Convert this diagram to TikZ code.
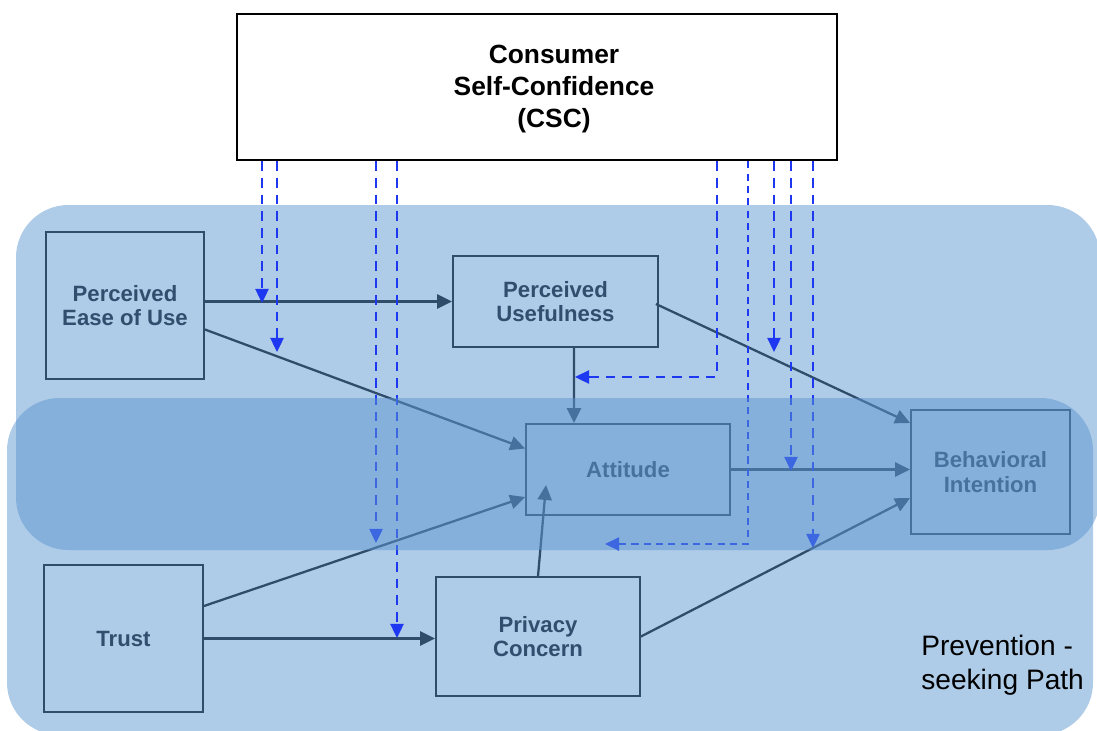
\documentclass[tikz,border=0pt]{standalone}
\usepackage{fontspec}
\setmainfont{Liberation Sans}
\usepackage{xcolor}
\usetikzlibrary{arrows.meta,calc}

\definecolor{regionblue}{RGB}{174,203,232}
\definecolor{bandblue}{RGB}{93,151,209}
\definecolor{boxline}{RGB}{47,76,107}
\definecolor{boxtext}{RGB}{50,78,110}
\definecolor{cscblue}{RGB}{30,55,240}

\tikzset{
  factor/.style={draw=boxline, line width=1.1pt, text=boxtext, align=center, inner sep=0pt,
    font=\bfseries\fontsize{12.6}{13.8}\selectfont},
  link/.style={draw=boxline, line width=1.3pt, -{Triangle[length=8.5pt,width=8pt]}},
  moder/.style={draw=cscblue, line width=1.1pt, dash pattern=on 5.5pt off 4pt,
    -{Triangle[length=8pt,width=7.5pt]}},
  moderfine/.style={moder, line width=1pt, dash pattern=on 4pt off 3pt},
}

\begin{document}
\begin{tikzpicture}[x=0.02cm, y=-0.02cm]
\useasboundingbox (0,0) rectangle (1097,730);
\clip (0,0) rectangle (1097,730);

% the two paths
\fill[regionblue, rounded corners=1.05cm] (16,205) rectangle (1100,550);
\fill[regionblue, rounded corners=1.05cm] (7,398) rectangle (1093,735);

% factors
\node[draw=black, line width=1.5pt, fill=white, minimum width=12cm, minimum height=2.92cm] (csc) at (537,87) {};
\node[align=center, inner sep=0pt, font=\bfseries\fontsize{15}{18}\selectfont] (csctext) at (554,89) {Consumer\\Self-Confidence\\(CSC)};
\node[factor, minimum width=3.16cm, minimum height=2.94cm] (peou) at (125,305.5) {Perceived\\Ease of Use};
\node[factor, minimum width=4.1cm, minimum height=1.82cm] (pu) at (555.5,301.5) {Perceived\\Usefulness};
\node[factor, minimum width=4.08cm, minimum height=1.82cm] (att) at (628,469.5) {Attitude};
\node[factor, minimum width=3.18cm, minimum height=2.48cm] (bi) at (990.5,472) {Behavioral\\Intention};
\node[factor, minimum width=3.18cm, minimum height=2.94cm] (trust) at (123.5,638.5) {Trust};
\node[factor, minimum width=4.08cm, minimum height=2.38cm] (pc) at (538,636.5) {Privacy\\Concern};
\node[anchor=north west, align=left, inner sep=0pt, font=\fontsize{16}{19}\selectfont] (prev) at (921,635) {Prevention -\\seeking Path};

% direct effects
\coordinate (pcatt) at (546,485);
\draw[link] (peou.east |- pu.west) -- (pu.west);
\draw[link] ($(peou.east)+(0,24)$) -- ($(att.west)+(0,-21)$);
\draw[link] ($(pu.south)+(18.5,0)$) -- ($(att.north)+(-54,0)$);
\draw[link] ($(pu.east)+(-3,2.5)$) -- ($(bi.west)+(0,-49)$);
\draw[link] (att.east) -- (att.east -| bi.west);
\draw[link] ($(trust.east)+(0,-32.5)$) -- ($(att.west)+(0,27.5)$);
\draw[link] (trust.east) -- (trust.east -| pc.west);
\draw[link] (pc.north) -- (pcatt);
\draw[link] (pc.east) -- ($(bi.west)+(0,26)$);

% moderating effects of CSC
\coordinate (m1) at (262,303);
\coordinate (m2) at (277,352);
\coordinate (m3) at (376,543);
\coordinate (m4) at (397,638);
\coordinate (m5) at (575,377);
\coordinate (m6) at (605,544);
\coordinate (m7) at (774,352);
\coordinate (m8) at (791,471);
\coordinate (m9) at (813,548);
\draw[moder] (m1 |- csc.south) -- (m1);
\draw[moder] (m2 |- csc.south) -- (m2);
\draw[moder] (m3 |- csc.south) -- (m3);
\draw[moder] (m4 |- csc.south) -- (m4);
\draw[moder] ($(csc.south west)+(481,0)$) |- (m5);
\draw[moderfine] ($(csc.south west)+(512,0)$) |- (m6);
\draw[moder] (m7 |- csc.south) -- (m7);
\draw[moder] (m8 |- csc.south) -- (m8);
\draw[moder] (m9 |- csc.south) -- (m9);

% overlap of the paths
\begin{scope}
\clip[rounded corners=1.05cm] (16,205) rectangle (1100,550);
\fill[bandblue, fill opacity=0.5, rounded corners=1.05cm] (7,398) rectangle (1093,735);
\end{scope}
\end{tikzpicture}
\end{document}
